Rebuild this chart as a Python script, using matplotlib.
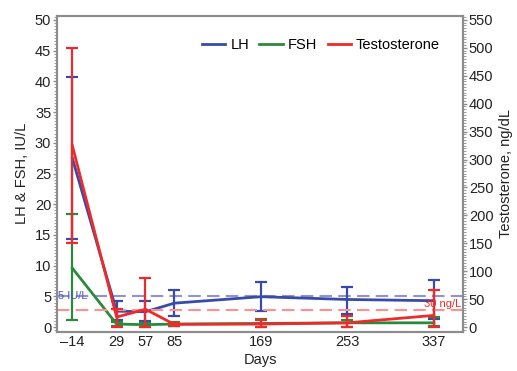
import numpy as np
import matplotlib.pyplot as plt
from matplotlib.ticker import MultipleLocator

plt.rcParams["font.family"] = ["Liberation Sans", "DejaVu Sans"]

# Data
days = [-14, 29, 57, 85, 169, 253, 337]

lh = [27.5, 2.6, 2.5, 3.9, 4.95, 4.5, 4.3]
lh_lo = [13.2, 1.4, 1.5, 2.1, 2.4, 2.4, 3.0]
lh_hi = [13.2, 1.7, 1.7, 2.1, 2.4, 2.1, 3.4]

fsh = [9.6, 0.5, 0.4, 0.5, 0.6, 0.7, 0.7]
fsh_lo = [8.4, 0.3, 0.3, 0.3, 0.6, 0.6, 0.5]
fsh_hi = [8.8, 0.3, 0.3, 0.3, 0.8, 0.4, 0.9]

testo = [325, 18, 32, 5, 5.5, 7.7, 21]
testo_lo = [175, 18, 32, 3, 5, 7.7, 21]
testo_hi = [175, 14, 56, 3, 7, 13, 46]

lh_ref = 5      # IU/L
testo_ref = 30  # ng/dL

c_lh = "#3a4aa8"
c_fsh = "#2a8a3c"
c_t = "#ee2a2a"
grey = "#8c8c8c"
txt = "#222222"

fig = plt.figure(figsize=(5.17, 3.71), dpi=100)
ax = fig.add_axes([0.110, 0.105, 0.786, 0.853])
ax2 = ax.twinx()

kw = dict(capsize=4, lw=2, elinewidth=1.6, capthick=1.6)
ax.errorbar(days, lh, yerr=[lh_lo, lh_hi], color=c_lh, label="LH", **kw)
ax.errorbar(days, fsh, yerr=[fsh_lo, fsh_hi], color=c_fsh, label="FSH", **kw)
ax2.errorbar(days, testo, yerr=[testo_lo, testo_hi], color=c_t,
             label="Testosterone", **kw)

# reference lines
ax.axhline(lh_ref, color="#8f93d6", ls=(0, (6, 3)), lw=1.5, zorder=1)
ax2.axhline(testo_ref, color="#ff9090", ls=(0, (6, 3)), lw=1.5, zorder=1)
ax.text(-28, lh_ref, "5 IU/L", color="#4a5ac0", fontsize=8,
        va="center", ha="left")
ax2.text(364, testo_ref + 2, "30 ng/L", color=c_t, fontsize=8,
         va="bottom", ha="right")

ax.set_xlim(-29, 365.5)
ax.set_ylim(-0.8, 50.7)
ax2.set_ylim(-8.8, 557.7)

ax.set_xticks(days)
ax.set_xticklabels(["\u201314"] + [str(d) for d in days[1:]])
ax.set_yticks(range(0, 51, 5))
ax2.set_yticks(range(0, 551, 50))
ax.yaxis.set_minor_locator(MultipleLocator(0.5))
ax2.yaxis.set_minor_locator(MultipleLocator(5))

for a in (ax, ax2):
    for s in a.spines.values():
        s.set_color(grey)
        s.set_linewidth(1.5)
    a.tick_params(which="major", length=3, width=1, color=grey,
                  labelsize=10.5, pad=1, labelcolor=txt)
    a.tick_params(which="minor", length=2, width=0.6, color=grey)
ax.tick_params(axis="x", length=0, pad=2)

ax.set_xlabel("Days", fontsize=10.5, labelpad=3, color=txt)
ax.set_ylabel("LH & FSH, IU/L", fontsize=10.5, labelpad=4, color=txt)
ax2.set_ylabel("Testosterone, ng/dL", fontsize=10.5, labelpad=4, color=txt)

h1, l1 = ax.get_legend_handles_labels()
h2, l2 = ax2.get_legend_handles_labels()
handles = [h[0] for h in h1 + h2]
ax2.legend(handles, l1 + l2, loc="upper right", ncol=3, frameon=False,
           fontsize=10.5, handlelength=1.6, handletextpad=0.35,
           columnspacing=0.7, bbox_to_anchor=(0.975, 0.97))

fig.savefig("out.png", dpi=100)
